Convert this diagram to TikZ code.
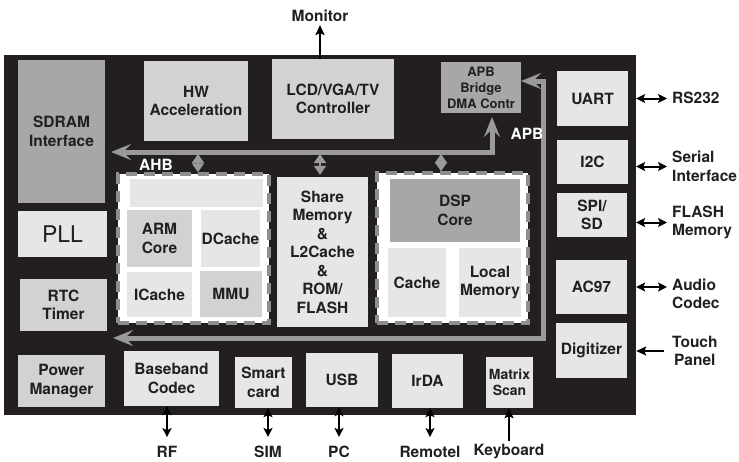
\documentclass[tikz,border=0pt]{standalone}
\usepackage{fontspec}
\setmainfont{TeX Gyre Heros}
\usetikzlibrary{arrows.meta}

\definecolor{framecol}{HTML}{231F20}
\definecolor{ink}{HTML}{231F20}
\definecolor{gmid}{HTML}{A7A7A7}
\definecolor{glight}{HTML}{D2D2D2}
\definecolor{gpale}{HTML}{E6E6E7}
\definecolor{busgray}{HTML}{9A9A9A}
\definecolor{dashgray}{HTML}{8E8E8E}

\begin{document}
\begin{tikzpicture}[x=1pt,y=-1pt,
  box/.style={inner sep=0pt, align=center, text=ink,
    font=\bfseries\fontsize{15.5}{18.5}\selectfont},
  sz/.style 2 args={minimum width=#1pt, minimum height=#2pt},
  cluster/.style={fill=white, draw=dashgray, line width=3.5pt,
    dash pattern=on 11pt off 7pt},
  bus/.style={draw=busgray, line width=5pt,
    {Stealth[length=20pt,width=16pt,inset=8pt]}-{Stealth[length=20pt,width=16pt,inset=8pt]}},
  tap/.style={draw=busgray, line width=2pt,
    {Triangle[length=9pt,width=12pt]}-{Triangle[length=9pt,width=12pt]}},
  ext/.style={inner sep=0pt, align=left, text=ink,
    font=\bfseries\fontsize{15.5}{18.5}\selectfont},
  link/.style={draw=black, line width=2pt},
  tips/.style={{Stealth[length=9pt,width=9pt,inset=2pt]}-{Stealth[length=9pt,width=9pt,inset=2pt]}},
  tipend/.style={-{Stealth[length=10pt,width=9pt,inset=2pt]}},
  buslabel/.style={inner sep=0pt, text=white,
    font=\bfseries\fontsize{15.5}{18.5}\selectfont}
]
\useasboundingbox (0,0) rectangle (739,461);

% chip outline
\node[fill=framecol, inner sep=0pt, sz={632}{360}] (frame) at (320,235) {};

% left column
\node[box, fill=gmid, sz={87}{143}] (sdram) at (61.5,131.5) {SDRAM\\Interface};
\node[box, fill=gpale, sz={89}{46}, font=\fontsize{23}{26}\selectfont] (pll) at (62.5,234) {PLL};
\node[box, fill=glight, sz={87}{52}] (rtc) at (63.5,305) {RTC\\Timer};
\node[box, fill=glight, sz={87}{52}] (power) at (61.5,381) {Power\\Manager};

% top row
\node[box, fill=glight, sz={104}{80}] (hw) at (196,101) {HW\\Acceleration};
\node[box, fill=glight, sz={122}{80}] (lcd) at (333,99) {LCD/VGA/TV\\Controller};
\node[box, fill=gmid, sz={80}{51}, font=\bfseries\fontsize{13}{16}\selectfont] (bridge) at (481,87.5) {APB\\Bridge\\DMA Contr};

% right column
\node[box, fill=gpale, sz={71}{55}] (uart) at (592.5,98.5) {UART};
\node[box, fill=gpale, sz={71}{44}] (i2c) at (592.5,162) {I2C};
\node[box, fill=gpale, sz={70}{44}] (spi) at (592,215) {SPI/\\SD};
\node[box, fill=gpale, sz={71}{54}] (ac97) at (591.5,287) {AC97};
\node[box, fill=gpale, sz={71}{55}] (digit) at (591.5,350.5) {Digitizer};

% ARM subsystem
\node[cluster, sz={151}{149}, inner sep=0pt] (armcl) at (193.5,248.5) {};
\node[box, fill=gpale, sz={133}{28}] (armtop) at (196.5,193) {};
\node[box, fill=glight, sz={65}{57}] (armcore) at (159.5,238.5) {ARM\\Core};
\node[box, fill=gpale, sz={59}{57}] (dcache) at (230.5,238.5) {DCache};
\node[box, fill=gpale, sz={65}{45}] (icache) at (159.5,294.5) {ICache};
\node[box, fill=glight, sz={62}{46}] (mmu) at (231,294) {MMU};

% shared memory
\node[box, fill=gpale, sz={91}{150}] (share) at (322.5,252) {Share\\Memory\\\&\\L2Cache\\\&\\ROM/\\FLASH};

% DSP subsystem
\node[cluster, sz={151}{150}, inner sep=0pt] (dspcl) at (452.5,248) {};
\node[box, fill=gmid, sz={130}{63}] (dspcore) at (455,210.5) {DSP\\Core};
\node[box, fill=gpale, sz={58}{69}] (cache) at (417,282.5) {Cache};
\node[box, fill=gpale, sz={62}{69}] (localmem) at (490,282.5) {Local\\Memory};

% bottom row
\node[box, fill=gpale, sz={95}{55}] (baseband) at (171.5,378.5) {Baseband\\Codec};
\node[box, fill=gpale, sz={57}{51}] (smart) at (263.5,382.5) {Smart\\card};
\node[box, fill=gpale, sz={72}{54}] (usb) at (342,380) {USB};
\node[box, fill=gpale, sz={71}{54}] (irda) at (427.5,381) {IrDA};
\node[box, fill=gpale, sz={47}{51}, font=\bfseries\fontsize{14}{16.5}\selectfont] (matrix) at (509.5,382.5) {Matrix\\Scan};

% AHB bus
\coordinate (ahbL) at (111,152);
\coordinate (ahbC) at (492,152);
\coordinate (ahbT) at (492,117);
\draw[bus] (ahbL) -- (ahbC) -- (ahbT);
\node[buslabel] (ahblbl) at (156,165) {AHB};

% APB bus
\coordinate (apbL) at (113,338);
\coordinate (apbC1) at (543,338);
\coordinate (apbC2) at (543,81);
\coordinate (apbT) at (521,81);
\draw[bus, line join=miter] (apbL) -- (apbC1) -- (apbC2) -- (apbT);
\node[buslabel] (apblbl) at (527,134) {APB};

% taps from AHB into the subsystems
\coordinate (tapA) at (198,154);
\coordinate (tapB) at (320,154);
\coordinate (tapC) at (441,154);
\draw[tap] (tapA) -- (tapA |- armcl.north);
\draw[tap] (tapB) -- ([yshift=2pt]tapB |- share.north);
\draw[tap] (tapC) -- (tapC |- dspcl.north);

% external labels
\node[ext] (monitor) at (320,16) {Monitor};
\node[ext, anchor=west] (rs232) at (672,98) {RS232};
\node[ext, anchor=west] (serial) at (672,166.5) {Serial\\Interface};
\node[ext, anchor=west] (flash) at (672,222.5) {FLASH\\Memory};
\node[ext, anchor=west] (audio) at (672,294) {Audio\\Codec};
\node[ext, align=center, anchor=west] (touch) at (672,351) {Touch\\Panel};

\node[ext] (rf) at (167,452) {RF};
\node[ext] (sim) at (268,452) {SIM};
\node[ext] (pc) at (339,452) {PC};
\node[ext] (remote) at (430,452) {Remotel};
\node[ext] (keyb) at (509,452) {Keyboard};

% external connections
\draw[link, tipend, shorten >=3pt] (lcd.north -| monitor) -- (monitor.south);
\draw[link, tips, shorten >=5pt] (uart.east -| frame.east) -- (uart.east -| rs232.west);
\draw[link, tips, shorten >=5pt] (serial.west -| frame.east) -- (serial.west);
\draw[link, tips, shorten >=5pt] (flash.west -| frame.east) -- (flash.west);
\draw[link, tips, shorten >=5pt] (ac97.east -| frame.east) -- (ac97.east -| audio.west);
\draw[link, tipend, shorten <=8pt] (touch.west) -- (touch.west -| frame.east);

\draw[link, tips, shorten >=9pt] (baseband.south -| rf) -- (rf.north);
\draw[link, tips, shorten >=9pt] (smart.south -| sim) -- (sim.north);
\draw[link, tips, shorten >=9pt] (usb.south -| pc) -- (pc.north);
\draw[link, tips, shorten >=9pt] (irda.south -| remote) -- (remote.north);
\draw[link, tipend] (keyb.north) ++(0,-3) coordinate (keybtop) (keybtop) -- (matrix.south -| keyb);
\end{tikzpicture}
\end{document}
